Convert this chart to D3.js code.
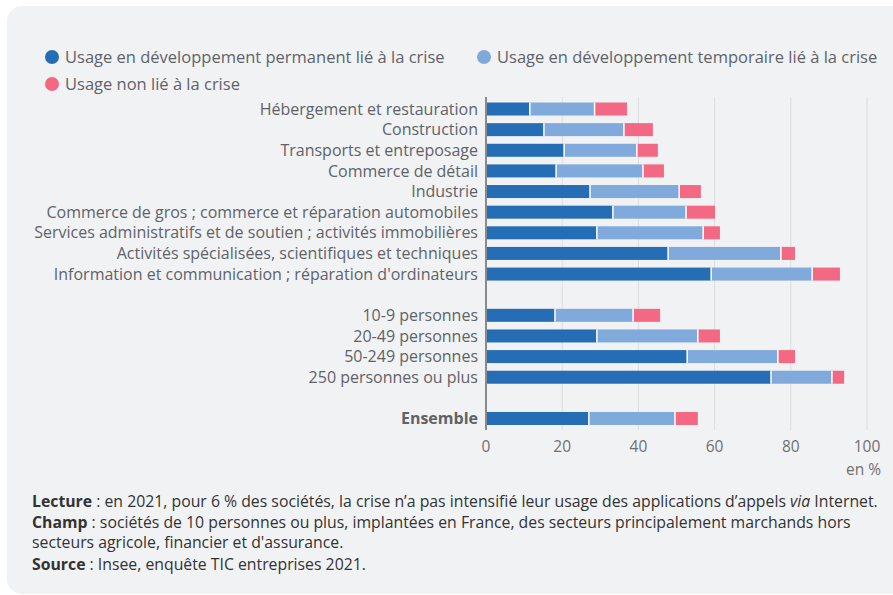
<!DOCTYPE html>
<html>
<head>
<meta charset="utf-8">
<script src="https://cdn.jsdelivr.net/npm/d3@7"></script>
<style>
  body { margin: 0; background: #fff; }
  svg { display: block; font-family: "Open Sans", sans-serif; }
</style>
</head>
<body>
<div id="chart"></div>
<script>
// Data
const categories = [
    "Hébergement et restauration",
    "Construction",
    "Transports et entreposage",
    "Commerce de détail",
    "Industrie",
    "Commerce de gros ; commerce et réparation automobiles",
    "Services administratifs et de soutien ; activités immobilières",
    "Activités spécialisées, scientifiques et techniques",
    "Information et communication ; réparation d'ordinateurs",
    "",
    "10-9 personnes",
    "20-49 personnes",
    "50-249 personnes",
    "250 personnes ou plus",
    " ",
    "Ensemble"
];
const permanent = [11.5, 15.2, 20.5, 18.4, 27.3, 33.3, 29.1, 47.8, 59.1, null, 18.1, 29.1, 52.8, 74.8, null, 27.0];
const temporaire = [17.0, 21.0, 19.1, 22.8, 23.4, 19.2, 27.9, 29.6, 26.5, null, 20.5, 26.5, 23.8, 16.0, null, 22.6];
const nonLie = [8.5, 7.6, 5.5, 5.5, 5.7, 7.6, 4.4, 3.7, 7.3, null, 7.1, 5.8, 4.5, 3.2, null, 6.0];
const seriesNames = [
    "Usage en développement permanent lié à la crise",
    "Usage en développement temporaire lié à la crise",
    "Usage non lié à la crise"
];
const xTicks = [0, 20, 40, 60, 80, 100];

const colors = ["#256db5", "#80aadb", "#f36882"];
const W = 893, H = 595;

const svg = d3.select("#chart").append("svg")
    .attr("width", W)
    .attr("height", H);

// Card background
svg.append("rect")
    .attr("x", 7).attr("y", 6)
    .attr("width", 900).attr("height", 588)
    .attr("rx", 15)
    .attr("fill", "#f1f2f4");

// Scales
const x = d3.scaleLinear().domain([0, 100]).range([486, 867]);
const y = d3.scaleBand()
    .domain(categories)
    .range([98.7, 428.8])
    .paddingInner(0.37)
    .paddingOuter(0.185);

// Gridlines
svg.append("g")
    .selectAll("line")
    .data(xTicks.slice(1))
    .join("line")
    .attr("x1", d => x(d)).attr("x2", d => x(d))
    .attr("y1", 97).attr("y2", 430)
    .attr("stroke", "#dcdde0")
    .attr("stroke-width", 1);

// Stacked bars
const rows = categories.map((c, i) => ({ cat: c, vals: [permanent[i], temporaire[i], nonLie[i]] }))
    .filter(r => r.vals[0] != null);

const segs = [];
rows.forEach(r => {
    let acc = 0;
    r.vals.forEach((v, k) => {
        segs.push({ cat: r.cat, k: k, x0: acc, x1: acc + v });
        acc += v;
    });
});

svg.append("g")
    .selectAll("rect")
    .data(segs)
    .join("rect")
    .attr("x", d => x(d.x0))
    .attr("y", d => y(d.cat))
    .attr("width", d => x(d.x1) - x(d.x0))
    .attr("height", y.bandwidth())
    .attr("fill", d => colors[d.k]);

// white separators between segments
svg.append("g")
    .selectAll("line")
    .data(segs.filter(d => d.k > 0))
    .join("line")
    .attr("x1", d => x(d.x0)).attr("x2", d => x(d.x0))
    .attr("y1", d => y(d.cat)).attr("y2", d => y(d.cat) + y.bandwidth())
    .attr("stroke", "#fff")
    .attr("stroke-width", 1.5);

// Y axis line
svg.append("line")
    .attr("x1", x(0)).attr("x2", x(0))
    .attr("y1", 97).attr("y2", 430)
    .attr("stroke", "#8a8a8a")
    .attr("stroke-width", 2);

// Category labels
svg.append("g")
    .selectAll("text")
    .data(categories.filter(c => c.trim() !== ""))
    .join("text")
    .attr("x", 478)
    .attr("y", d => y(d) + y.bandwidth() / 2)
    .attr("dy", "0.35em")
    .attr("text-anchor", "end")
    .attr("font-size", 16)
    .attr("font-weight", d => d === "Ensemble" ? 700 : 400)
    .attr("fill", "#5f6368")
    .text(d => d);

// X tick labels
svg.append("g")
    .selectAll("text")
    .data(xTicks)
    .join("text")
    .attr("x", d => x(d))
    .attr("y", 447)
    .attr("dy", "0.35em")
    .attr("text-anchor", "middle")
    .attr("font-size", 15.5)
    .attr("fill", "#707070")
    .text(d => d);

svg.append("text")
    .attr("x", 881).attr("y", 470)
    .attr("dy", "0.35em")
    .attr("text-anchor", "end")
    .attr("font-size", 15.5)
    .attr("fill", "#707070")
    .text("en %");

// Legend
const legendPos = [[52, 57], [484, 57], [52, 84]];
const legend = svg.append("g")
    .selectAll("g")
    .data(seriesNames)
    .join("g")
    .attr("transform", (d, i) => `translate(${legendPos[i][0]},${legendPos[i][1]})`);
legend.append("circle").attr("r", 7).attr("fill", (d, i) => colors[i]);
legend.append("text")
    .attr("x", 13).attr("dy", "0.35em")
    .attr("font-size", 16.5)
    .attr("fill", "#5f6368")
    .text(d => d);

// Notes
const notes = [
    [["Lecture", "b"], [" : en 2021, pour 6 % des sociétés, la crise n’a pas intensifié leur usage des applications d’appels ", ""], ["via", "i"], [" Internet.", ""]],
    [["Champ", "b"], [" : sociétés de 10 personnes ou plus, implantées en France, des secteurs principalement marchands hors", ""]],
    [["secteurs agricole, financier et d'assurance.", ""]],
    [["Source", "b"], [" : Insee, enquête TIC entreprises 2021.", ""]]
];
const noteY = [501, 522, 542, 564];
svg.append("g")
    .selectAll("text")
    .data(notes)
    .join("text")
    .attr("x", 32)
    .attr("y", (d, i) => noteY[i])
    .attr("dy", "0.35em")
    .attr("font-size", 15.8)
    .attr("fill", "#333")
    .selectAll("tspan")
    .data(d => d)
    .join("tspan")
    .attr("font-weight", d => d[1] === "b" ? 700 : 400)
    .attr("font-style", d => d[1] === "i" ? "italic" : "normal")
    .text(d => d[0]);
</script>
</body>
</html>
